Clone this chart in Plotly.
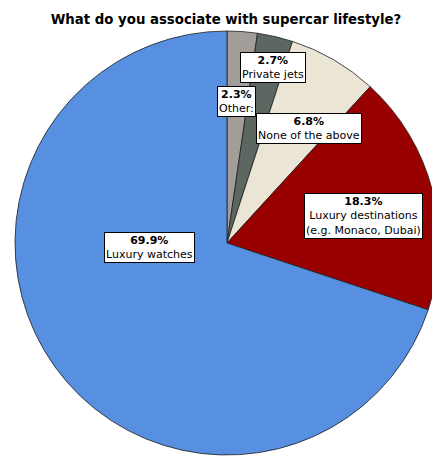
import plotly.graph_objects as go

# Survey answers, listed clockwise from 12 o'clock
categories = ["Other:", "Private jets", "None of the above",
              "Luxury destinations<br>(e.g. Monaco, Dubai)", "Luxury watches"]
shares = [2.3, 2.7, 6.8, 18.3, 69.9]
slice_colors = ["#a29d99", "#5c6762", "#ebe5d5", "#990000", "#5790e0"]

# Pixel centres of the callout boxes
label_px = [(236, 102), (273, 67), (309, 129), (363, 216), (149, 247)]

W, H = 446, 457
cx, cy, r = 227, 243, 212

fig = go.Figure(go.Pie(
    labels=categories,
    values=shares,
    sort=False,
    direction="clockwise",
    rotation=0,
    marker=dict(colors=slice_colors, line=dict(color="#1e1e1e", width=0.8)),
    textinfo="none",
    hoverinfo="label+percent",
    showlegend=False,
    domain=dict(x=[(cx - r) / W, (cx + r) / W],
                y=[(H - (cy + r)) / H, (H - (cy - r)) / H]),
))

for cat, val, (px, py) in zip(categories, shares, label_px):
    fig.add_annotation(
        x=px / W, y=(H - py) / H, xref="paper", yref="paper",
        xanchor="center", yanchor="middle",
        text=f"<b>{val:.1f}%</b><br>{cat}",
        showarrow=False, align="center",
        font=dict(family="DejaVu Sans", size=11, color="#000"),
        bgcolor="#ffffff", bordercolor="#000000", borderwidth=1, borderpad=1,
    )

fig.update_layout(
    width=W, height=H,
    margin=dict(l=0, r=0, t=0, b=0),
    paper_bgcolor="#ffffff",
    title=dict(text="<b>What do you associate with supercar lifestyle?</b>",
               x=226 / W, xanchor="center", y=1 - 19 / H, yanchor="middle",
               font=dict(family="DejaVu Sans", size=13.3, color="#000")),
)

fig.write_html("out.html")
